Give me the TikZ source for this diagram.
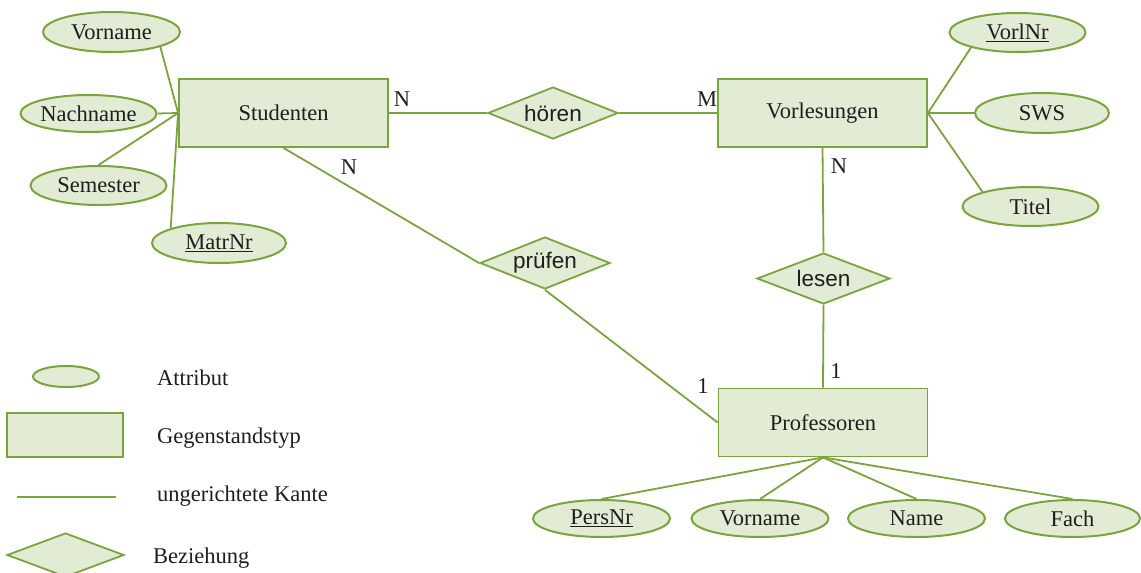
\documentclass[tikz,border=0pt]{standalone}
\usepackage{fontspec}
\setmainfont{Liberation Serif}
\newfontfamily\arialfont{Liberation Sans}
\usetikzlibrary{shapes.geometric}
\definecolor{erline}{HTML}{7AA43C}
\definecolor{erfill}{HTML}{E2ECD4}
\definecolor{ertext}{HTML}{1E1E1E}

\begin{document}
\begin{tikzpicture}[x=1pt,y=-1pt,
  every node/.style={text=ertext, font=\fontsize{22.5}{24}\selectfont},
  entity/.style={draw=erline, fill=erfill, line width=1.8pt, minimum width=209pt, minimum height=68pt, inner sep=0pt},
  attr/.style={ellipse, draw=erline, fill=erfill, line width=2pt, minimum width=136pt, minimum height=39pt, inner sep=0pt},
  rel/.style={diamond, aspect=2.5, draw=erline, fill=erfill, line width=1.8pt, minimum width=130pt, minimum height=52pt, inner sep=0pt, font=\arialfont\fontsize{22.5}{24}\selectfont},
  edge/.style={draw=erline, line width=1.8pt},
  card/.style={inner sep=0pt},
  legtext/.style={anchor=base west, inner sep=0pt}]
\useasboundingbox (0,0) rectangle (1141,573);

% entity types
\node[entity] (stud) at (283.5,113) {Studenten};
\node[entity] (vorl) at (822.5,113) {Vorlesungen};
\node[entity] (prof) at (823,422.5) {Professoren};

% relationships
\node[rel] (hoeren) at (553,113) {hören};
\node[rel] (pruefen) at (545,263) {prüfen};
\node[rel, minimum width=133pt, minimum height=51pt] (lesen) at (823.5,278.5) {lesen};

% attributes of Studenten
\node[attr, minimum width=137pt, minimum height=40pt] (svn) at (111.5,32) {Vorname};
\node[attr, minimum height=37pt] (snn) at (88.5,113.5) {Nachname};
\node[attr] (ssem) at (98.5,185.5) {Semester};
\node[attr, minimum width=134pt, minimum height=40pt] (smatr) at (219,243) {\underline{MatrNr}};

% attributes of Vorlesungen
\node[attr] (vnr) at (1017.5,32.5) {\underline{VorlNr}};
\node[attr, minimum width=134pt, minimum height=40pt] (vsws) at (1042,113) {SWS};
\node[attr] (vtitel) at (1030.5,206.5) {Titel};

% attributes of Professoren
\node[attr, minimum width=137pt, minimum height=37pt] (ppers) at (601.5,518.5) {\underline{PersNr}};
\node[attr, minimum width=137pt, minimum height=37pt] (pvn) at (760,518.5) {Vorname};
\node[attr, minimum width=137pt, minimum height=37pt] (pname) at (916.5,518.5) {Name};
\node[attr, minimum width=135pt, minimum height=37pt] (pfach) at (1072.5,518.5) {Fach};

% connectors
\draw[edge] (stud.west) -- (svn.-17);
\draw[edge] (stud.west) -- (snn.east);
\draw[edge] (stud.west) -- (ssem.north);
\draw[edge] (stud.west) -- (smatr.163);
\draw[edge] (stud.east) -- (hoeren.west);
\draw[edge] (hoeren.east) -- (vorl.west);
\draw[edge] (vorl.east) -- (vnr.198);
\draw[edge] (vorl.east) -- (vsws.west);
\draw[edge] (vorl.east) -- (vtitel.163);
\draw[edge] (stud.south) -- (pruefen.west);
\draw[edge] (pruefen.south) -- (prof.west);
\draw[edge] (vorl.south) -- (lesen.north);
\draw[edge] (lesen.south) -- (prof.north);
\draw[edge] (prof.south) -- (ppers.north);
\draw[edge] (prof.south) -- (pvn.north);
\draw[edge] (prof.south) -- (pname.north);
\draw[edge] (prof.south) -- (pfach.north);

% cardinalities
\node[card] (cn1) at (402,99) {N};
\node[card] (cm1) at (707,99) {M};
\node[card] (cn2) at (349,167) {N};
\node[card] (cn3) at (839,166) {N};
\node[card] (c11) at (703,386) {1};
\node[card] (c12) at (836,371) {1};

% legend
\node[attr, minimum width=66pt, minimum height=21pt] (legell) at (66,376.5) {};
\node[entity, minimum width=116pt, minimum height=44pt] (legrect) at (65,435) {};
\coordinate (legl1) at (17,497);
\coordinate (legl2) at (116,497);
\draw[edge] (legl1) -- (legl2);
\node[rel, minimum width=117pt, minimum height=44pt] (legdia) at (65.5,555) {};
\node[legtext] (lt1) at (157,385) {Attribut};
\node[legtext] (lt2) at (157,443) {Gegenstandstyp};
\node[legtext] (lt3) at (157,501) {ungerichtete Kante};
\node[legtext] (lt4) at (153,563) {Beziehung};
\end{tikzpicture}
\end{document}
